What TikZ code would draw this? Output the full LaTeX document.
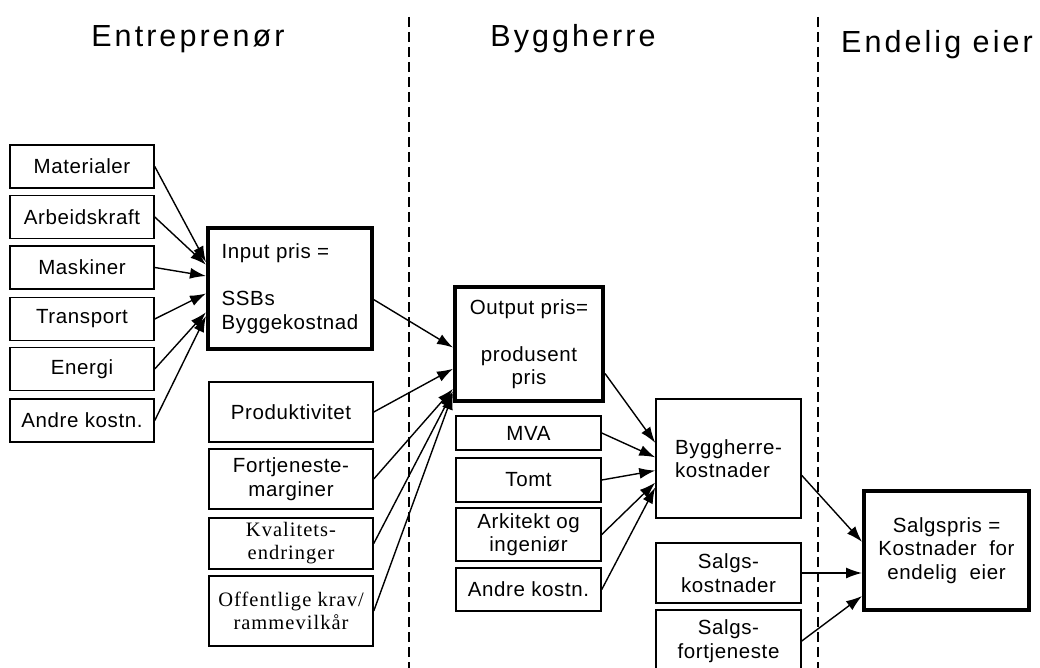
\documentclass[tikz,border=0pt]{standalone}
\usepackage{fontspec}
\setmainfont[LetterSpace=3]{Liberation Sans}
\newfontfamily\colhead[LetterSpace=10]{Liberation Sans}
\newfontfamily\timesfont[LetterSpace=5]{Liberation Serif}
\usetikzlibrary{arrows.meta,calc}

\begin{document}
\begin{tikzpicture}[x=1pt, y=-1pt,
    cbox/.style={draw, line width=1.5pt, inner sep=0pt, align=center,
        minimum width=144, minimum height=43,
        font=\fontsize{20.5}{23.5}\selectfont},
    heavy/.style={cbox, line width=4pt},
    arr/.style={-{Latex[length=16pt,width=11pt]}, line width=1.4pt},
    divider/.style={line width=1.3pt, dash pattern=on 10pt off 5pt}]
    \useasboundingbox (0,0) rectangle (1040,668);

    % column headings
    \node[anchor=base, font=\colhead\fontsize{30.5}{34}\selectfont] (h1) at (188,47) {Entreprenør};
    \node[anchor=base, font=\colhead\fontsize{30.5}{34}\selectfont] (h2) at (573,47) {Byggherre};
    \node[anchor=base, font=\colhead\fontsize{30.5}{34}\selectfont] (h3) at (937,53) {Endelig eier};

    \draw[divider] (409,17) -- (409,668);
    \draw[divider] (818,17) -- (818,668);

    % input factors
    \node[cbox] (mat) at (82,166.5) {Materialer};
    \node[cbox] (arb) at (82,217) {Arbeidskraft};
    \node[cbox] (mas) at (82,267.5) {Maskiner};
    \node[cbox] (tra) at (82,319) {Transport};
    \node[cbox] (ene) at (82,369) {Energi};
    \node[cbox] (and1) at (82,420.5) {Andre kostn.};

    \node[heavy, minimum width=164, minimum height=121, align=left] (in) at (290,288.5)
        {Input pris =\\ \\SSBs\\Byggekostnad};

    \node[cbox, minimum width=164, minimum height=60] (prod) at (291,412) {Produktivitet};
    \node[cbox, minimum width=164, minimum height=60] (fort) at (291,479) {Fortjeneste-\\marginer};
    \node[cbox, minimum width=164, minimum height=51, font=\timesfont\fontsize{20.5}{23}\selectfont] (kval) at (291,543.5) {Kvalitets-\\endringer};
    \node[cbox, minimum width=164, minimum height=70, font=\timesfont\fontsize{20.5}{23}\selectfont] (off) at (291,611) {Offentlige krav/\\rammevilkår};

    % byggherre
    \node[heavy, minimum width=148, minimum height=114] (out) at (529,344)
        {Output pris=\\ \\produsent\\pris};

    \node[cbox, minimum width=145, minimum height=34] (mva) at (528.5,433) {MVA};
    \node[cbox, minimum width=145, minimum height=44] (tomt) at (528.5,480) {Tomt};
    \node[cbox, minimum width=145, minimum height=53] (ark) at (528.5,534.5) {Arkitekt og\\ingeniør};
    \node[cbox, minimum width=145, minimum height=43] (and2) at (528.5,589.5) {Andre kostn.};

    \node[cbox, minimum width=145, minimum height=119, align=left] (bygg) at (728.5,458.5)
        {Byggherre-\\kostnader};
    \node[cbox, minimum width=145, minimum height=60] (skost) at (728.5,573) {Salgs-\\kostnader};
    \node[cbox, minimum width=145, minimum height=62] (sfort) at (728.5,641) {Salgs-\\fortjeneste};

    % endelig eier
    \node[heavy, minimum width=165, minimum height=119] (salg) at (946.5,550.5)
        {Salgspris =\\Kostnader\ \ for\\endelig\ \ eier};

    \foreach \s/\f in {mat/0.29, arb/0.31, mas/0.40, tra/0.54, ene/0.69, and1/0.72} {
            \draw[arr] (\s.east) -- ($(in.north west)!\f!(in.south west)$);
        }
    \draw[arr] ($(in.north east)!0.59!(in.south east)$) -- ($(out.north west)!0.53!(out.south west)$);
    \foreach \s/\f in {prod/0.71, fort/0.88, kval/0.90, off/0.92} {
            \draw[arr] (\s.east) -- ($(out.north west)!\f!(out.south west)$);
        }
    \draw[arr] ($(out.north east)!0.75!(out.south east)$) -- ($(bygg.north west)!0.37!(bygg.south west)$);
    \foreach \s/\f in {mva/0.49, tomt/0.60, ark/0.70, and2/0.74} {
            \draw[arr] (\s.east) -- ($(bygg.north west)!\f!(bygg.south west)$);
        }
    \draw[arr] ($(bygg.north east)!0.64!(bygg.south east)$) -- ($(salg.north west)!0.43!(salg.south west)$);
    \draw[arr] (skost.east) -- (skost.east -| salg.west);
    \draw[arr] (sfort.east) -- ($(salg.north west)!0.87!(salg.south west)$);
\end{tikzpicture}
\end{document}
